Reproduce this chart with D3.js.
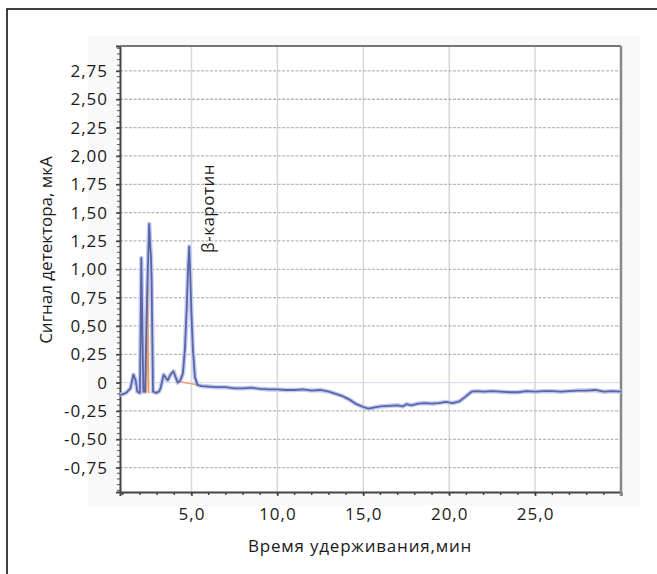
<!DOCTYPE html>
<html>
<head>
<meta charset="utf-8">
<script src="https://cdn.jsdelivr.net/npm/d3@7"></script>
<style>
  body { margin: 0; background: #fff; }
  text { font-family: "Open Sans", "Noto Sans", sans-serif; fill: #1a1a1a; }
</style>
</head>
<body>
<div class="container"></div>
<script>
// Chromatogram data (time, min / signal, mkA)
var times = [0.84, 1.2, 1.45, 1.62, 1.75, 1.85, 2.0, 2.03, 2.08, 2.14, 2.2, 2.3, 2.38, 2.46, 2.54, 2.6, 2.64, 2.68, 2.76,
  2.95, 3.1, 3.2, 3.38, 3.52, 3.62, 3.78, 3.95, 4.05, 4.2, 4.35, 4.5, 4.62, 4.72, 4.8, 4.87, 4.93, 5.0, 5.08, 5.2, 5.35,
  5.6, 6.0, 6.5, 7.0, 7.5, 8.0, 8.5, 9.0, 9.5, 10.0, 10.5, 11.0, 11.5, 12.0, 12.5, 13.0, 13.4, 13.8, 14.2, 14.6, 15.0,
  15.3, 15.6, 16.0, 16.5, 17.0, 17.3, 17.5, 17.8, 18.2, 18.6, 19.0, 19.4, 19.8, 20.2, 20.6, 20.9, 21.3, 21.6, 22.0,
  22.5, 23.0, 23.5, 24.0, 24.5, 25.0, 25.5, 26.0, 26.5, 27.0, 27.5, 28.0, 28.5, 29.0, 29.5, 30.0];
var signal = [-0.11, -0.09, -0.05, 0.07, 0.02, -0.08, -0.09, 0.3, 1.10, 0.5, -0.08, -0.08, 0.5, 1.0, 1.40, 1.2, 1.12, 0.9, -0.08,
  -0.09, -0.08, -0.05, 0.07, 0.04, 0.02, 0.07, 0.10, 0.06, 0.0, 0.02, 0.08, 0.3, 0.65, 1.0, 1.20, 0.95, 0.6, 0.3, 0.05, -0.02,
  -0.03, -0.035, -0.04, -0.04, -0.05, -0.05, -0.045, -0.055, -0.06, -0.06, -0.065, -0.065, -0.06, -0.07, -0.065, -0.08, -0.1, -0.12, -0.15, -0.19, -0.215,
  -0.23, -0.22, -0.21, -0.205, -0.2, -0.21, -0.19, -0.2, -0.185, -0.18, -0.185, -0.18, -0.17, -0.18, -0.165, -0.13, -0.08, -0.075, -0.08,
  -0.075, -0.08, -0.085, -0.085, -0.075, -0.08, -0.075, -0.075, -0.08, -0.075, -0.07, -0.07, -0.065, -0.08, -0.075, -0.08];

// integration baseline / second channel (orange)
var orangeTimes = [2.3, 2.36, 2.44, 2.5, 2.56];
var orangeSignal = [-0.09, -0.08, 0.88, -0.08, -0.09];
var baseTimes = [4.25, 5.4];
var baseSignal = [0.01, -0.02];

var yTicks = [-0.75, -0.5, -0.25, 0, 0.25, 0.5, 0.75, 1.0, 1.25, 1.5, 1.75, 2.0, 2.25, 2.5, 2.75];
var xTicks = [5, 10, 15, 20, 25];

var svgWidth = 657;
var svgHeight = 574;

var margin = { top: 46, right: 36, bottom: 82, left: 120 };
var width = svgWidth - margin.left - margin.right;
var height = svgHeight - margin.top - margin.bottom;

var svg = d3.select(".container")
  .append("svg")
  .attr("width", svgWidth)
  .attr("height", svgHeight);

// outer frame (only top and left visible)
svg.append("rect")
  .attr("x", 7)
  .attr("y", 9)
  .attr("width", 700)
  .attr("height", 600)
  .attr("fill", "none")
  .attr("stroke", "#111")
  .attr("stroke-width", 1.6);

// faint background behind the plot
svg.append("rect")
  .attr("x", 88)
  .attr("y", 36)
  .attr("width", 552)
  .attr("height", 470)
  .attr("fill", "#f9f9f9");

var chartGroup = svg.append("g")
  .attr("transform", `translate(${margin.left}, ${margin.top})`);

chartGroup.append("rect")
  .attr("width", width)
  .attr("height", height)
  .attr("fill", "#fff");

var xScale = d3.scaleLinear().domain([0.84, 30]).range([0, width]);
var yScale = d3.scaleLinear().domain([-0.965, 2.97]).range([height, 0]);

// grid
chartGroup.append("g").selectAll("line")
  .data(xTicks)
  .enter()
  .append("line")
  .attr("x1", d => xScale(d)).attr("x2", d => xScale(d))
  .attr("y1", 0).attr("y2", height)
  .attr("stroke", "#d8d8d8")
  .attr("stroke-width", 1.5);

chartGroup.append("g").selectAll("line")
  .data(yTicks)
  .enter()
  .append("line")
  .attr("x1", 0).attr("x2", width)
  .attr("y1", d => yScale(d)).attr("y2", d => yScale(d))
  .attr("stroke", d => d === 0 ? "#d6dae6" : "#b8b8b8")
  .attr("stroke-width", d => d === 0 ? 1 : 1.3)
  .attr("stroke-dasharray", d => d === 0 ? null : "3,1.5");

// axes (comma decimals, plain hyphen for minus)
var fmtY = d => d === 0 ? "0" : d3.format(".2f")(d).replace(".", ",").replace("\u2212", "-");
var fmtX = d => d3.format(".1f")(d).replace(".", ",");

var leftAxis = d3.axisLeft(yScale).tickValues(yTicks).tickFormat(fmtY).tickSize(4).tickPadding(8);
var bottomAxis = d3.axisBottom(xScale).tickValues(xTicks).tickFormat(fmtX).tickSize(4).tickPadding(12);

var minorY = d3.range(-0.95, 2.97, 0.05);
var minorX = d3.range(1, 30.01, 1);

chartGroup.append("g").selectAll("line")
  .data(minorY)
  .enter()
  .append("line")
  .attr("x1", -3).attr("x2", 0)
  .attr("y1", d => yScale(d)).attr("y2", d => yScale(d))
  .attr("stroke", "#555");

chartGroup.append("g").selectAll("line")
  .data(minorX)
  .enter()
  .append("line")
  .attr("x1", d => xScale(d)).attr("x2", d => xScale(d))
  .attr("y1", height).attr("y2", height + 3)
  .attr("stroke", "#444")
  .attr("stroke-width", 1.5);

var yAxisG = chartGroup.append("g").call(leftAxis);
var xAxisG = chartGroup.append("g")
  .attr("transform", `translate(0, ${height})`)
  .call(bottomAxis);

[yAxisG, xAxisG].forEach(function(g) {
  g.select(".domain").attr("stroke", "#444").attr("stroke-width", 2);
  g.selectAll(".tick line").attr("stroke", "#444").attr("stroke-width", 1.5);
  g.selectAll(".tick text")
    .style("font-size", "17px")
    .style("letter-spacing", "1px")
    .attr("fill", "#1a1a1a");
});

// top and right frame of plot
chartGroup.append("line")
  .attr("x1", 0).attr("x2", width).attr("y1", 0).attr("y2", 0)
  .attr("stroke", "#777").attr("stroke-width", 2);
chartGroup.append("line")
  .attr("x1", width).attr("x2", width).attr("y1", 0).attr("y2", height + 4)
  .attr("stroke", "#888").attr("stroke-width", 2.5);

// traces
chartGroup.append("clipPath").attr("id", "plotclip")
  .append("rect").attr("width", width).attr("height", height);

var line = d3.line()
  .x(d => xScale(d[0]))
  .y(d => yScale(d[1]));

var mainData = d3.zip(times, signal);
var orangeData = d3.zip(orangeTimes, orangeSignal);
var baseData = d3.zip(baseTimes, baseSignal);

var traces = chartGroup.append("g").attr("clip-path", "url(#plotclip)");

traces.append("path")
  .attr("d", line(mainData))
  .attr("fill", "none")
  .attr("stroke", "#c2ccf0")
  .attr("stroke-width", 4.5)
  .attr("stroke-linejoin", "round");

traces.append("path")
  .attr("d", line(baseData))
  .attr("fill", "none")
  .attr("stroke", "#f0a070")
  .attr("stroke-width", 1.5);

traces.append("path")
  .attr("d", line(orangeData))
  .attr("fill", "none")
  .attr("stroke", "#e8a060")
  .attr("stroke-width", 1.8);

traces.append("path")
  .attr("d", line(mainData))
  .attr("fill", "none")
  .attr("stroke", "#5a64a6")
  .attr("stroke-width", 1.8)
  .attr("stroke-linejoin", "round");

// labels
svg.append("text")
  .attr("transform", "translate(208, 253) rotate(-90)")
  .attr("text-anchor", "start")
  .attr("dy", "0.35em")
  .style("font-size", "17px")
  .style("letter-spacing", "0.5px")
  .text("β-каротин");

svg.append("text")
  .attr("transform", "translate(46, 250) rotate(-90)")
  .attr("text-anchor", "middle")
  .attr("dy", "0.35em")
  .style("font-size", "17px")
  .text("Сигнал детектора, мкА");

svg.append("text")
  .attr("x", 360)
  .attr("y", 546)
  .attr("text-anchor", "middle")
  .attr("dy", "0.35em")
  .style("font-size", "17px")
  .style("letter-spacing", "0.8px")
  .text("Время удерживания,мин");
</script>
</body>
</html>
